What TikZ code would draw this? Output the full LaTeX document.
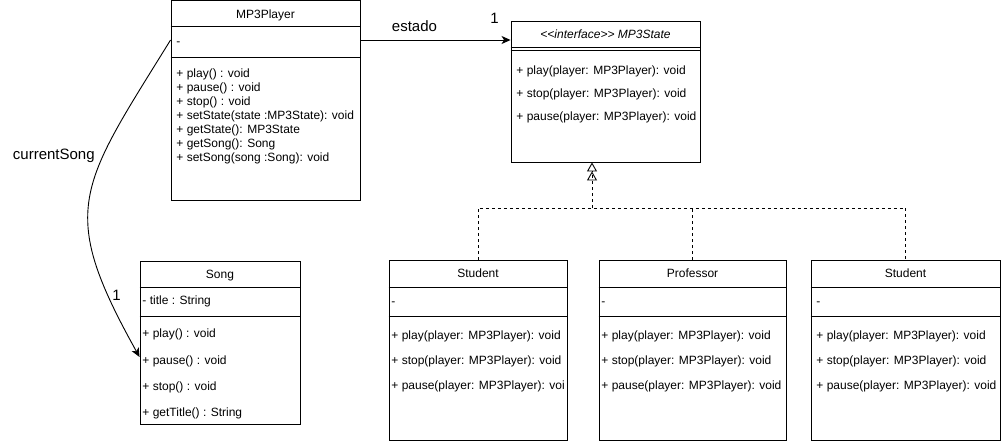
\documentclass[tikz,border=0pt]{standalone}
\usepackage{fontspec}
\setmainfont{Liberation Sans}
\usetikzlibrary{arrows.meta}

\begin{document}
\begin{tikzpicture}[x=1pt, y=-1pt, line width=0.9pt,
		every node/.style={inner sep=0pt, font=\fontsize{12}{14}\selectfont},
		classbox/.style={draw, rectangle},
		classname/.style={anchor=base, yshift=-4.2pt},
		member/.style={anchor=base west, yshift=-4.2pt},
		edgelabel/.style={anchor=base west, font=\fontsize{15}{18}\selectfont},
		assoc/.style={-{Stealth[length=9pt, width=8pt, inset=2.5pt]}},
		realize/.style={dash pattern=on 3pt off 3pt}]
		\useasboundingbox (0,0) rectangle (1001,441);

		% MP3Player
		\node[classbox, minimum width=189pt, minimum height=199.5pt] (player) at (265.5,100.25) {};
		\draw (player.west |- 0,26) -- (player.east |- 0,26);
		\draw (player.west |- 0,57) -- (player.east |- 0,57);
		\node[classname] (playerT) at (265.5,14) {MP3Player};
		\node[member] (playerA) at (176,41) {-};
		\node[member] (playerM1) at (176,73.5) {+ play() : void};
		\node[member] (playerM2) at (176,87.5) {+ pause() : void};
		\node[member] (playerM3) at (176,101.5) {+ stop() : void};
		\node[member] (playerM4) at (176,115.5) {+ setState(state :MP3State): void};
		\node[member] (playerM5) at (176,129.5) {+ getState(): MP3State};
		\node[member] (playerM6) at (176,143.5) {+ getSong(): Song};
		\node[member] (playerM7) at (176,157.5) {+ setSong(song :Song): void};

		% MP3State
		\node[classbox, minimum width=189pt, minimum height=141pt] (state) at (605.5,91.5) {};
		\draw (state.west |- 0,47) -- (state.east |- 0,47);
		\draw (state.west |- 0,50) -- (state.east |- 0,50);
		\node[classname] (stateT) at (605.5,34) {\itshape\textless\kern0pt\textless\kern0pt interface\textgreater\kern0pt\textgreater{} MP3State};
		\node[member] (stateM1) at (516,70.5) {+ play(player: MP3Player): void};
		\node[member] (stateM2) at (516,93.5) {+ stop(player: MP3Player): void};
		\node[member] (stateM3) at (516,116) {+ pause(player: MP3Player): void};

		% Song
		\node[classbox, minimum width=160pt, minimum height=163pt] (song) at (220,342.5) {};
		\draw (song.west |- 0,287) -- (song.east |- 0,287);
		\draw (song.west |- 0,316) -- (song.east |- 0,316);
		\node[classname] (songT) at (220,274) {Song};
		\node[member] (songA) at (142,300) {- title : String};
		\node[member] (songM1) at (142,333.5) {+ play() : void};
		\node[member] (songM2) at (142,360) {+ pause() : void};
		\node[member] (songM3) at (142,386) {+ stop() : void};
		\node[member] (songM4) at (142,412) {+ getTitle() : String};

		% Student
		\node[classbox, minimum width=178pt, minimum height=179.5pt] (stuA) at (478,350.25) {};
		\draw (stuA.west |- 0,287) -- (stuA.east |- 0,287);
		\draw (stuA.west |- 0,316) -- (stuA.east |- 0,316);
		\node[classname] (stuAT) at (478,273.5) {Student};
		\node[member] (stuAA) at (391,301) {-};
		\node[member] (stuAM1) at (391,335) {+ play(player: MP3Player): void};
		\node[member] (stuAM2) at (391,360) {+ stop(player: MP3Player): void};
		\node[member] (stuAM3) at (391,385) {+ pause(player: MP3Player): voi};

		% Professor
		\node[classbox, minimum width=187pt, minimum height=179.5pt] (prof) at (692.5,350.25) {};
		\draw (prof.west |- 0,287) -- (prof.east |- 0,287);
		\draw (prof.west |- 0,316) -- (prof.east |- 0,316);
		\node[classname] (profT) at (692.5,273.5) {Professor};
		\node[member] (profA) at (601,301) {-};
		\node[member] (profM1) at (601,335) {+ play(player: MP3Player): void};
		\node[member] (profM2) at (601,360) {+ stop(player: MP3Player): void};
		\node[member] (profM3) at (601,385) {+ pause(player: MP3Player): void};

		% Student (second)
		\node[classbox, minimum width=189pt, minimum height=179.5pt] (stuB) at (905.5,350.25) {};
		\draw (stuB.west |- 0,287) -- (stuB.east |- 0,287);
		\draw (stuB.west |- 0,316) -- (stuB.east |- 0,316);
		\node[classname] (stuBT) at (905.5,273.5) {Student};
		\node[member] (stuBA) at (816,301) {-};
		\node[member] (stuBM1) at (816,335) {+ play(player: MP3Player): void};
		\node[member] (stuBM2) at (816,360) {+ stop(player: MP3Player): void};
		\node[member] (stuBM3) at (816,385) {+ pause(player: MP3Player): void};

		% associations
		\draw[assoc] (player.east |- 0,40) -- (state.west |- 0,40);
		\node[edgelabel] (estado) at (391.5,31.5) {estado};
		\node[edgelabel] (estadoN) at (490,23.5) {1};

		\draw[assoc] (player.west |- 0,40) .. controls (79,188) and (57,209) .. (song.west |- 0,357);
		\node[edgelabel] (current) at (12.5,159.5) {currentSong};
		\node[edgelabel] (currentN) at (112,300) {1};

		% realizations
		\coordinate (join) at (592,208);
		\draw[realize] (stuA.north) |- (join) -| (stuB.north);
		\draw[realize] (prof.north) -- (prof.north |- join);
		\draw[realize, -{Triangle[open, length=9pt, width=10pt] Triangle[open, length=9pt, width=10pt]}] (join) -- (join |- state.south);
	\end{tikzpicture}
\end{document}
